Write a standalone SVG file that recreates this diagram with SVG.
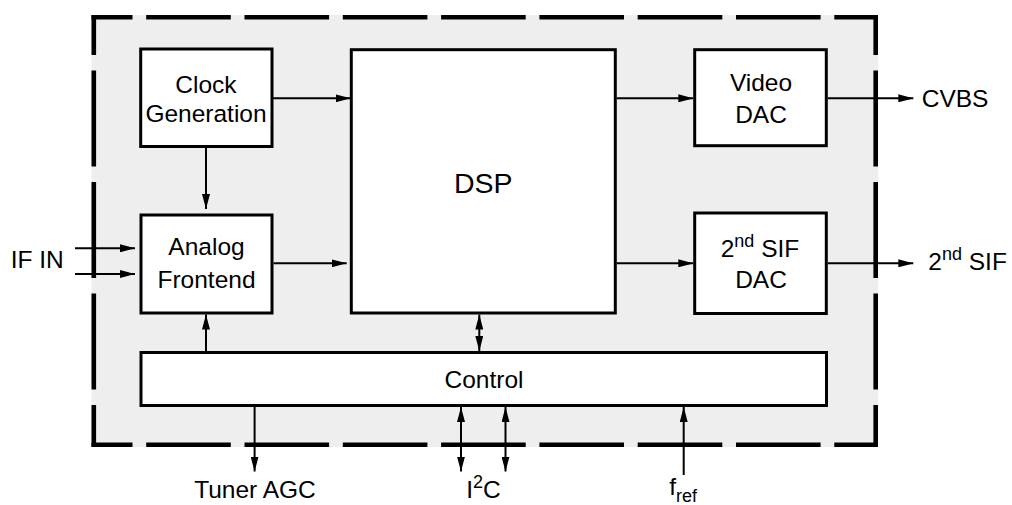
<svg xmlns="http://www.w3.org/2000/svg" width="1012" height="505" viewBox="0 0 1012 505">
<defs>
<style>
.box{fill:#ffffff;stroke:#000000;stroke-width:3}
.edge{fill:none;stroke:#000000;stroke-width:2}
.border{fill:none;stroke:#000000;stroke-width:4.6}
.hb{stroke-dasharray:84.6 13.7;stroke-dashoffset:43.6}
.vb{stroke-dasharray:96 15.5;stroke-dashoffset:56}
.t{font-family:"Liberation Sans",Arial,Helvetica,sans-serif;font-size:24.5px;fill:#000000}
.tm{text-anchor:middle}
.sup{font-size:18px}
</style>
<marker id="ah" markerUnits="userSpaceOnUse" markerWidth="15" markerHeight="8" refX="15" refY="4" orient="auto-start-reverse">
<path d="M0,0 L15,4 L0,8 Z" fill="#000000"/>
</marker>
</defs>
<rect width="1012" height="505" fill="#ffffff"/>
<g id="chip">
<rect x="91.5" y="15" width="786.5" height="432" fill="#eeeeee"/>
<line class="border hb" x1="91.5" y1="17.3" x2="878" y2="17.3"/>
<line class="border hb" x1="91.5" y1="444.7" x2="878" y2="444.7"/>
<line class="border vb" x1="93.8" y1="15" x2="93.8" y2="447"/>
<line class="border vb" x1="875.7" y1="15" x2="875.7" y2="447"/>
</g>
<g id="clock">
<rect class="box" x="140.7" y="49" width="131.3" height="97.5"/>
<text class="t tm" x="206" y="92.7">Clock</text>
<text class="t tm" x="206" y="122">Generation</text>
</g>
<g id="analog">
<rect class="box" x="141" y="215" width="131" height="98"/>
<text class="t tm" x="206.5" y="255">Analog</text>
<text class="t tm" x="206.5" y="287.5">Frontend</text>
</g>
<g id="dsp">
<rect class="box" x="351.3" y="49.7" width="264" height="263.3"/>
<text class="t tm" x="483.3" y="192.7" style="font-size:28.5px">DSP</text>
</g>
<g id="videodac">
<rect class="box" x="694.7" y="49.7" width="131.6" height="96"/>
<text class="t tm" x="761" y="90.7">Video</text>
<text class="t tm" x="761" y="122.7">DAC</text>
</g>
<g id="sifdac">
<rect class="box" x="694.7" y="213" width="131.6" height="100.5"/>
<text class="t tm" x="760" y="257.3">2<tspan dy="-10.5" class="sup">nd</tspan><tspan dy="10.5"> SIF</tspan></text>
<text class="t tm" x="761" y="288.3">DAC</text>
</g>
<g id="control">
<rect class="box" x="141" y="352.5" width="685.5" height="53"/>
<text class="t tm" x="484" y="388">Control</text>
</g>
<g id="labels">
<text class="t" x="10.7" y="268.3">IF IN</text>
<text class="t" x="921.7" y="106.7">CVBS</text>
<text class="t" x="928.3" y="270">2<tspan dy="-10.5" class="sup">nd</tspan><tspan dy="10.5"> SIF</tspan></text>
<text class="t tm" x="255" y="498">Tuner AGC</text>
<text class="t tm" x="483.5" y="498">I<tspan dy="-10.5" class="sup">2</tspan><tspan dy="10.5">C</tspan></text>
<text class="t" x="669.3" y="495">f<tspan dy="7" class="sup">ref</tspan></text>
</g>
<g id="connectors">
<path class="edge" d="M272,98.3 H350.7" marker-end="url(#ah)"/>
<path class="edge" d="M206,148 V209" marker-end="url(#ah)"/>
<path class="edge" d="M75,248.3 H135" marker-end="url(#ah)"/>
<path class="edge" d="M75,274 H135" marker-end="url(#ah)"/>
<path class="edge" d="M273.5,263.3 H346.7" marker-end="url(#ah)"/>
<path class="edge" d="M616.8,98.3 H693.3" marker-end="url(#ah)"/>
<path class="edge" d="M616.8,263.3 H693.3" marker-end="url(#ah)"/>
<path class="edge" d="M827.8,98.3 H913.3" marker-end="url(#ah)"/>
<path class="edge" d="M827.8,263.3 H913.3" marker-end="url(#ah)"/>
<path class="edge" d="M206,351 V314.5" marker-end="url(#ah)"/>
<path class="edge" d="M479.3,314.5 V351" marker-start="url(#ah)" marker-end="url(#ah)"/>
<path class="edge" d="M254.6,407 V471.5" marker-end="url(#ah)"/>
<path class="edge" d="M461,407 V471.5" marker-start="url(#ah)" marker-end="url(#ah)"/>
<path class="edge" d="M505.5,407 V471.5" marker-start="url(#ah)" marker-end="url(#ah)"/>
<path class="edge" d="M683.7,475 V407" marker-end="url(#ah)"/>
</g>
</svg>
